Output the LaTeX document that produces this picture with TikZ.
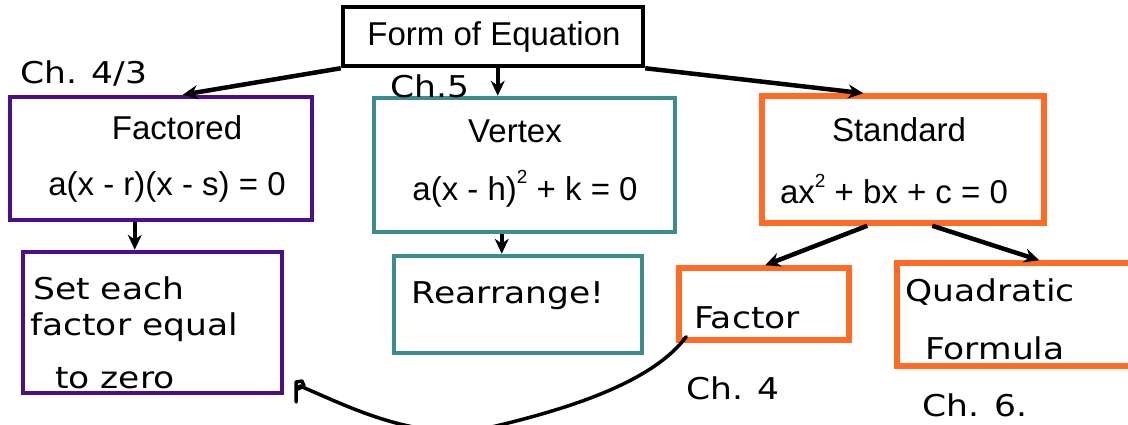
\documentclass[tikz,border=0pt]{standalone}
\usepackage{fontspec}
\setmainfont{Liberation Sans}
\newfontfamily\handfont[FakeStretch=1.15]{DejaVu Sans}
\usetikzlibrary{arrows.meta,calc}
\definecolor{cpurple}{HTML}{4B0F8A}
\definecolor{cteal}{HTML}{3B8C8C}
\definecolor{corange}{HTML}{FF6A24}
\newcommand\mysq{\raisebox{0.5em}{\fontsize{19}{19}\selectfont 2}}
\begin{document}
\begin{tikzpicture}[x=1pt,y=-1pt,
  box/.style={draw,rectangle,line width=4.5pt,inner sep=0pt},
  typed/.style={font=\fontsize{33}{38}\selectfont,inner sep=0pt},
  hand/.style={font=\handfont\fontsize{30}{34}\selectfont,inner sep=0pt},
  arr/.style={line width=4.5pt,-{Stealth[length=15pt,width=14pt]}},
  ink/.style={line width=3.5pt,line cap=round,line join=round}]
\useasboundingbox (0,0) rectangle (1128,425);
\begin{scope}
\clip (0,0) rectangle (1128,425);
% boxes
\node[box,minimum width=300pt,minimum height=59pt] (top) at (493,36.5) {};
\node[box,draw=cpurple,minimum width=302pt,minimum height=123pt] (fact) at (161,158.5) {};
\node[box,draw=cteal,minimum width=301pt,minimum height=134pt] (vert) at (524.5,165) {};
\node[box,draw=corange,line width=5.5pt,minimum width=282pt,minimum height=127pt] (std) at (903,159.5) {};
\node[box,draw=cpurple,minimum width=259pt,minimum height=141pt] (set) at (152.5,322.5) {};
\node[box,draw=cteal,minimum width=248pt,minimum height=97pt] (rearr) at (518,304.5) {};
\node[box,draw=corange,line width=5.5pt,minimum width=170pt,minimum height=72pt] (fac2) at (764,304) {};
\node[box,draw=corange,line width=5.5pt,minimum width=243pt,minimum height=103pt] (quad) at (1018.5,314.5) {};
% typed text
\node[typed] (ttop) at (494,37) {Form of Equation};
\node[typed] (tfact) at (177,128) {Factored};
\node[typed] (efact) at (167,187) {a(x - r)(x - s) = 0};
\node[typed] (tvert) at (515,131) {Vertex};
\node[typed] (evert) at (525,189) {a(x - h)\mysq{} + k = 0};
\node[typed] (tstd) at (899,130) {Standard};
\node[typed] (estd) at (894,189) {ax\mysq{} + bx + c = 0};
% handwritten text
\node[hand,anchor=west] (ch43) at (20,73) {Ch. 4/3};
\node[hand,anchor=west] (ch5) at (390,86) {Ch.5};
\node[hand,anchor=west] (s1) at (33,288) {Set each};
\node[hand,anchor=west] (s2) at (30,327) {factor equal};
\node[hand,anchor=west] (s3) at (55,378) {to zero};
\node[hand] (trearr) at (508,296) {Rearrange!};
\node[hand] (tfac2) at (747,318) {Factor};
\node[hand,anchor=west] (q1) at (905,292) {Quadratic};
\node[hand,anchor=west] (q2) at (925,348) {Formula};
\node[hand] (ch4) at (733,388) {Ch. 4};
\node[hand] (ch6) at (975,405) {Ch. 6.};
% arrows
\draw[arr] (top.south west) -- ([xshift=175pt]fact.north west);
\draw[arr] ([xshift=157pt]top.south west) -- ([xshift=157pt]top.south west |- vert.north);
\draw[arr] (top.south east) -- ([xshift=104pt]std.north west);
\draw[arr] ([xshift=127pt]fact.south west) -- ([xshift=127pt]fact.south west |- set.north);
\draw[arr] ([xshift=130pt]vert.south west) -- ([xshift=130pt]vert.south west |- rearr.north);
\draw[arr] ([xshift=108pt]std.south west) -- ([xshift=89pt]fac2.north west);
\draw[arr] ([xshift=173pt]std.south west) -- ([xshift=145pt]quad.north west);
% hand-drawn curve
\coordinate (cs) at ([xshift=10pt,yshift=6pt]fac2.south west);
\coordinate (ce) at (300,386);
\draw[ink] (cs) .. controls (650,385) and (560,412) .. (470,432) .. controls (400,434) and (345,405) .. (ce);
\draw[ink] (296,402) -- (296,382) -- (302,381) -- (304,386) -- (298,389) -- (ce);
\end{scope}
\end{tikzpicture}
\end{document}
